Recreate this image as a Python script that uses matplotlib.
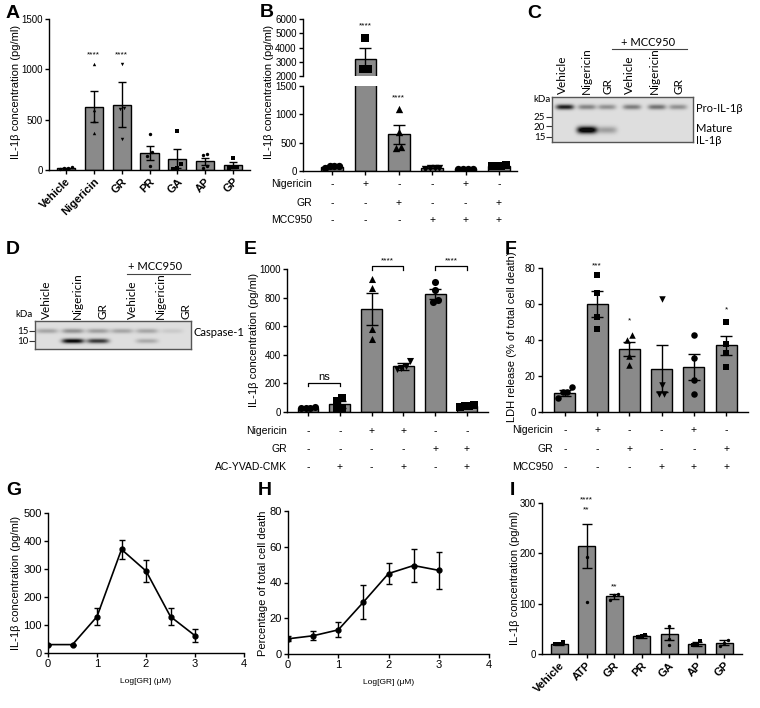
import numpy as np
import matplotlib
matplotlib.use('Agg')
import matplotlib.pyplot as plt
from matplotlib.transforms import blended_transform_factory

W, H = 760, 708
BAR = '#8a8a8a'
plt.rcParams['font.family'] = ['Liberation Sans', 'DejaVu Sans']
plt.rcParams['font.size'] = 7
BLOT_FONT = ['Lato', 'DejaVu Sans']

# ---- data ----
# A
a_groups = ['Vehicle', 'Nigericin', 'GR', 'PR', 'GA', 'AP', 'GP']
a_means = [15, 630, 650, 170, 110, 85, 45]
a_sems = [5, 150, 220, 70, 95, 35, 30]
a_points = [[15, 20, 25, 10], [1050, 600, 490, 370], [1050, 620, 610, 310],
            [355, 180, 140, 40], [385, 60, 15, 5], [155, 150, 40, 20], [115, 30, 25, 15]]
a_markers = ['o', '^', 'v', 'o', 's', 'o', 's']
a_stars = ['', '****', '****', '', '', '', '']

# B
b_means = [75, 3200, 650, 50, 40, 90]
b_sems = [8, 800, 170, 5, 3, 5]
b_points = [[60, 90, 80, 80], [4700, 2500, 2500], [1100, 680, 400, 420],
            [45, 60, 40, 55], [38, 42, 40, 44], [85, 100, 90, 88]]
b_stars = ['', '****', '****', '', '', '']
b_rows = ['Nigericin', 'GR', 'MCC950']
b_table = [['-', '+', '-', '-', '+', '-'],
           ['-', '-', '+', '-', '-', '+'],
           ['-', '-', '-', '+', '+', '+']]

# C blot
c_lanes = ['Vehicle', 'Nigericin', 'GR', 'Vehicle', 'Nigericin', 'GR']
c_pro = [0.75, 0.35, 0.3, 0.38, 0.42, 0.3]
c_mature = [0.0, 1.0, 0.25, 0.0, 0.0, 0.0]
c_kda = [25, 20, 15]

# D blot
d_lanes = ['Vehicle', 'Nigericin', 'GR', 'Vehicle', 'Nigericin', 'GR']
d_upper = [0.22, 0.3, 0.25, 0.22, 0.22, 0.08]
d_lower = [0.0, 0.85, 0.65, 0.0, 0.2, 0.0]
d_kda = [15, 10]

# E
e_means = [30, 55, 720, 320, 825, 42]
e_sems = [5, 25, 110, 25, 33, 5]
e_points = [[25, 35, 30, 28], [100, 80, 20, 20], [930, 870, 580, 510],
            [355, 320, 310, 300], [910, 850, 780, 770], [45, 50, 35, 40]]
e_rows = ['Nigericin', 'GR', 'AC-YVAD-CMK']
e_table = [['-', '-', '+', '+', '-', '-'],
           ['-', '-', '-', '-', '+', '+'],
           ['-', '+', '-', '+', '-', '+']]

# F
f_means = [10.5, 60, 35, 24, 25, 37]
f_sems = [1.5, 7, 4, 13, 7, 5.5]
f_points = [[14, 11, 11, 8], [76, 66, 53, 46], [43, 40, 31, 26],
            [63, 15, 10, 10], [43, 30, 18, 10], [50, 38, 33, 25]]
f_stars = ['', '***', '*', '', '', '*']
f_rows = ['Nigericin', 'GR', 'MCC950']
f_table = [['-', '+', '-', '-', '+', '-'],
           ['-', '-', '+', '-', '-', '+'],
           ['-', '-', '-', '+', '+', '+']]

six_markers = ['o', 's', '^', 'v', 'o', 's']

# G, H
log_gr = [0, 0.5, 1, 1.5, 2, 2.5, 3]
g_il1b = [30, 30, 130, 370, 293, 130, 62]
g_err = [0, 0, 31, 33, 40, 29, 22]
h_death = [8.5, 10.2, 13.5, 29, 45, 49.5, 46.8]
h_err = [1.5, 2.5, 4.2, 9.5, 5.8, 9.3, 10.4]

# I
i_groups = ['Vehicle', 'ATP', 'GR', 'PR', 'GA', 'AP', 'GP']
i_means = [20, 215, 115, 35, 40, 20, 22]
i_sems = [2, 44, 5, 3, 12, 4, 5]
i_points = [[23, 20, 19], [193, 103], [120, 118, 108], [38, 36, 33],
            [55, 30, 18], [25, 18, 17], [28, 22, 15]]
i_markers = ['s', 'o', 'o', 's', 'o', 's', 'o']

fig = plt.figure(figsize=(W / 100, H / 100), dpi=100)


def px_axes(x0, y0, x1, y1):
    return fig.add_axes([x0 / W, 1 - y1 / H, (x1 - x0) / W, (y1 - y0) / H])


def ftext(x, y, s, **kw):
    return fig.text(x / W, 1 - y / H, s, **kw)


def style(ax):
    for s in ['top', 'right']:
        ax.spines[s].set_visible(False)
    for s in ['left', 'bottom']:
        ax.spines[s].set_linewidth(1.0)
    ax.tick_params(direction='out', length=3, width=1, labelsize=7, pad=1.5)


def swarm(vals, span, step=0.12, tol=0.04):
    # spread points that sit close together, like a prism scatter
    vals = np.asarray(vals, float)
    xs = np.zeros(len(vals))
    groups = []
    for i in np.argsort(vals):
        if groups and vals[i] - vals[groups[-1][-1]] < tol * span:
            groups[-1].append(i)
        else:
            groups.append([i])
    for g in groups:
        offs = (np.arange(len(g)) - (len(g) - 1) / 2) * step
        for k, i in enumerate(g):
            xs[i] = offs[k]
    return xs


def bars(ax, means, sems, points, markers, ms, ylim, width, span=None, cap=3, clip=False):
    x = np.arange(len(means))
    ax.bar(x, means, width=width, color=BAR, edgecolor='black', linewidth=1, zorder=1)
    ax.errorbar(x, means, yerr=sems, fmt='none', ecolor='black', elinewidth=1,
                capsize=cap, capthick=1, zorder=3)
    span = span or (ylim[1] - ylim[0])
    for i, (pts, m) in enumerate(zip(points, markers)):
        off = swarm(pts, span, step=width / 4.5)
        ax.scatter(i + off, pts, marker=m, s=ms, color='black', linewidths=0,
                   zorder=4, clip_on=clip)
    ax.set_ylim(ylim)


def stars(ax, labels, ys, size=6):
    for i, (s, y) in enumerate(zip(labels, ys)):
        if s:
            ax.text(i, y, s, ha='center', va='bottom', fontsize=size, clip_on=False)


def table(ax, names, rows, ys, label_x):
    tr = blended_transform_factory(ax.transData, fig.transFigure)
    for name, row, y in zip(names, rows, ys):
        ftext(label_x, y, name, ha='right', va='center', fontsize=7.5)
        for i, s in enumerate(row):
            ax.text(i, 1 - y / H, s, transform=tr, ha='center', va='center', fontsize=7.5)


def blot(ax, w, h, lane_x, band_rows):
    xx, yy = np.meshgrid(np.arange(w) + 0.5, np.arange(h) + 0.5)
    img = np.full(xx.shape, 0.87)
    for yc, ints, hw, hh in band_rows:
        for xc, a in zip(lane_x, ints):
            img -= a * np.exp(-((xx - xc) / hw) ** 4) * np.exp(-((yy - yc) / hh) ** 2)
    ax.imshow(np.clip(img, 0.05, 1), cmap='gray', vmin=0, vmax=1, extent=(0, w, h, 0),
              aspect='auto', interpolation='bilinear')
    for s in ax.spines.values():
        s.set_color('#555555')
        s.set_linewidth(1)
    ax.set_xticks([])
    ax.tick_params(axis='y', length=4, width=0.8, pad=1, labelsize=7, color='#333333')
    for lab in ax.get_yticklabels():
        lab.set_fontfamily(BLOT_FONT)


# ---- A ----
axA = px_axes(49, 19, 250, 170)
style(axA)
bars(axA, a_means, a_sems, a_points, a_markers, 6, (0, 1500), 0.65, cap=3)
axA.set_xlim(-0.6, 6.6)
axA.set_yticks([0, 500, 1000, 1500])
axA.set_xticks(range(len(a_groups)))
axA.set_xticklabels(a_groups, rotation=45, ha='right', rotation_mode='anchor',
                    fontweight='bold', fontsize=8)
stars(axA, a_stars, [1110] * 7)
ftext(16, 92, 'IL-1β concentration (pg/ml)', rotation=90, ha='center', va='center', fontsize=8)

# ---- B (broken axis) ----
bxlim = (-0.87, 5.54)
axB2 = px_axes(303, 86, 517, 171)
axB1 = px_axes(303, 19, 517, 76)
style(axB1)
style(axB2)
axB1.spines['bottom'].set_visible(False)
axB1.tick_params(axis='x', bottom=False, labelbottom=False)
bars(axB1, b_means, b_sems, b_points, six_markers, 28, (2000, 6000), 0.65, span=1500, cap=4, clip=True)
bars(axB2, b_means, b_sems, b_points, six_markers, 28, (0, 1500), 0.65, cap=4, clip=True)
for ax in (axB1, axB2):
    ax.set_xlim(bxlim)
axB1.set_yticks([2000, 3000, 4000, 5000, 6000])
axB2.set_yticks([0, 500, 1000, 1500])
axB2.set_xticks(range(6))
axB2.set_xticklabels([])
stars(axB1, b_stars, [5250, 5250, 9e9, 0, 0, 0])
stars(axB2, ['', '', '****', '', '', ''], [0, 0, 1230, 0, 0, 0])
ftext(269, 92, 'IL-1β concentration (pg/ml)', rotation=90, ha='center', va='center', fontsize=8)
table(axB2, b_rows, b_table, [184, 203, 220], 312)

# ---- C blot ----
axC = px_axes(552, 97, 693, 142)
c_band_x = [13, 35, 55, 80, 105, 126]
blot(axC, 141, 45, c_band_x, [(10, c_pro, 9, 2.6), (33, c_mature, 10, 3.6)])
axC.set_yticks([20, 29, 40])
axC.set_yticklabels([str(k) for k in c_kda])
for x, lab in zip([562, 586, 608, 629, 654, 679], c_lanes):
    ftext(x, 94, lab, rotation=90, ha='center', va='bottom', fontsize=8.5, family=BLOT_FONT)
ftext(551, 100, 'kDa', ha='right', va='center', fontsize=7, family=BLOT_FONT)
ftext(648, 43, '+ MCC950', ha='center', va='center', fontsize=8, family=BLOT_FONT)
fig.add_artist(plt.Line2D([612 / W, 687 / W], [1 - 49 / H] * 2, color='#444444', lw=0.8))
ftext(696, 108, 'Pro-IL-1β', ha='left', va='center', fontsize=8, family=BLOT_FONT)
ftext(696, 128, 'Mature', ha='left', va='center', fontsize=8, family=BLOT_FONT)
ftext(696, 141, 'IL-1β', ha='left', va='center', fontsize=8, family=BLOT_FONT)

# ---- D blot ----
axD = px_axes(35, 321, 191, 349)
d_band_x = [12, 38, 63, 87, 112, 137]
blot(axD, 156, 28, d_band_x, [(10, d_upper, 11, 2.4), (20, d_lower, 11, 2.4)])
axD.set_yticks([10, 20])
axD.set_yticklabels([str(k) for k in d_kda])
for x, lab in zip([46, 77, 103, 132, 160, 186], d_lanes):
    ftext(x, 319, lab, rotation=90, ha='center', va='bottom', fontsize=8.5, family=BLOT_FONT)
ftext(33, 315, 'kDa', ha='right', va='center', fontsize=7, family=BLOT_FONT)
ftext(155, 266, '+ MCC950', ha='center', va='center', fontsize=8, family=BLOT_FONT)
fig.add_artist(plt.Line2D([127 / W, 190 / W], [1 - 274 / H] * 2, color='#444444', lw=0.8))
ftext(194, 332, 'Caspase-1', ha='left', va='center', fontsize=8, family=BLOT_FONT)

# ---- E ----
axE = px_axes(287, 269, 488, 412)
style(axE)
bars(axE, e_means, e_sems, e_points, six_markers, 26, (0, 1000), 0.65, cap=4)
axE.set_xlim(-0.66, 5.66)
axE.set_yticks([0, 200, 400, 600, 800, 1000])
axE.set_xticks(range(6))
axE.set_xticklabels([])
for (i0, i1, yb, ytop, lab, fs) in [(0, 1, 180, 200, 'ns', 8), (2, 3, 990, 1023, '****', 6),
                                    (4, 5, 990, 1023, '****', 6)]:
    axE.plot([i0, i0, i1, i1], [yb, ytop, ytop, yb], color='black', lw=0.9, clip_on=False)
    axE.text((i0 + i1) / 2, ytop + 12, lab, ha='center', va='bottom', fontsize=fs, clip_on=False)
ftext(254, 340, 'IL-1β concentration (pg/ml)', rotation=90, ha='center', va='center', fontsize=8)
table(axE, e_rows, e_table, [431, 449, 467], 287)

# ---- F ----
axF = px_axes(542, 268, 748, 412)
style(axF)
bars(axF, f_means, f_sems, f_points, six_markers, 22, (0, 80), 0.65, cap=4)
axF.set_xlim(-0.71, 5.68)
axF.set_yticks([0, 20, 40, 60, 80])
axF.set_xticks(range(6))
axF.set_xticklabels([])
stars(axF, f_stars, [0, 79.5, 48.5, 0, 0, 55])
ftext(512, 337, 'LDH release (% of total cell death)', rotation=90, ha='center', va='center', fontsize=8)
table(axF, f_rows, f_table, [430, 449, 467], 553)

# ---- G ----
axG = px_axes(48, 513, 244, 653)
style(axG)
axG.errorbar(log_gr, g_il1b, yerr=g_err, color='black', lw=1.2, marker='o', ms=3.5,
             capsize=2.5, elinewidth=1, capthick=1)
axG.set_xlim(0, 4)
axG.set_ylim(0, 500)
axG.set_xticks([0, 1, 2, 3, 4])
axG.set_yticks([0, 100, 200, 300, 400, 500])
axG.tick_params(labelsize=8)
axG.set_xlabel('Log[GR] (μM)', fontsize=6, labelpad=6)
ftext(16, 583, 'IL-1β concentration (pg/ml)', rotation=90, ha='center', va='center', fontsize=8)

# ---- H ----
axH = px_axes(288, 511, 489, 654)
style(axH)
axH.errorbar(log_gr, h_death, yerr=h_err, color='black', lw=1.2, marker='o', ms=3.5,
             capsize=2.5, elinewidth=1, capthick=1)
axH.set_xlim(0, 4)
axH.set_ylim(0, 80)
axH.set_xticks([0, 1, 2, 3, 4])
axH.set_yticks([0, 20, 40, 60, 80])
axH.tick_params(labelsize=8)
axH.set_xlabel('Log[GR] (μM)', fontsize=6, labelpad=6)
ftext(263, 583, 'Percentage of total cell death', rotation=90, ha='center', va='center', fontsize=8)

# ---- I ----
axI = px_axes(542, 503, 742, 654)
style(axI)
bars(axI, i_means, i_sems, i_points, i_markers, 6, (0, 300), 0.62, cap=3.5)
axI.set_xlim(-0.62, 6.65)
axI.set_yticks([0, 100, 200, 300])
axI.set_xticks(range(len(i_groups)))
axI.set_xticklabels(i_groups, rotation=45, ha='right', rotation_mode='anchor',
                    fontweight='bold', fontsize=8)
stars(axI, ['', '****', '**'], [0, 299, 127])
stars(axI, ['', '**'], [0, 279])
ftext(515, 578, 'IL-1β concentration (pg/ml)', rotation=90, ha='center', va='center', fontsize=8)

# ---- panel letters ----
for x, y, l in [(6, 5, 'A'), (260, 4, 'B'), (527, 5, 'C'), (6, 241, 'D'), (244, 241, 'E'),
                (505, 241, 'F'), (6, 482, 'G'), (258, 482, 'H'), (510, 482, 'I')]:
    ftext(x, y, l, ha='left', va='top', fontsize=14, fontweight='bold')

fig.savefig('out.png', dpi=100)
